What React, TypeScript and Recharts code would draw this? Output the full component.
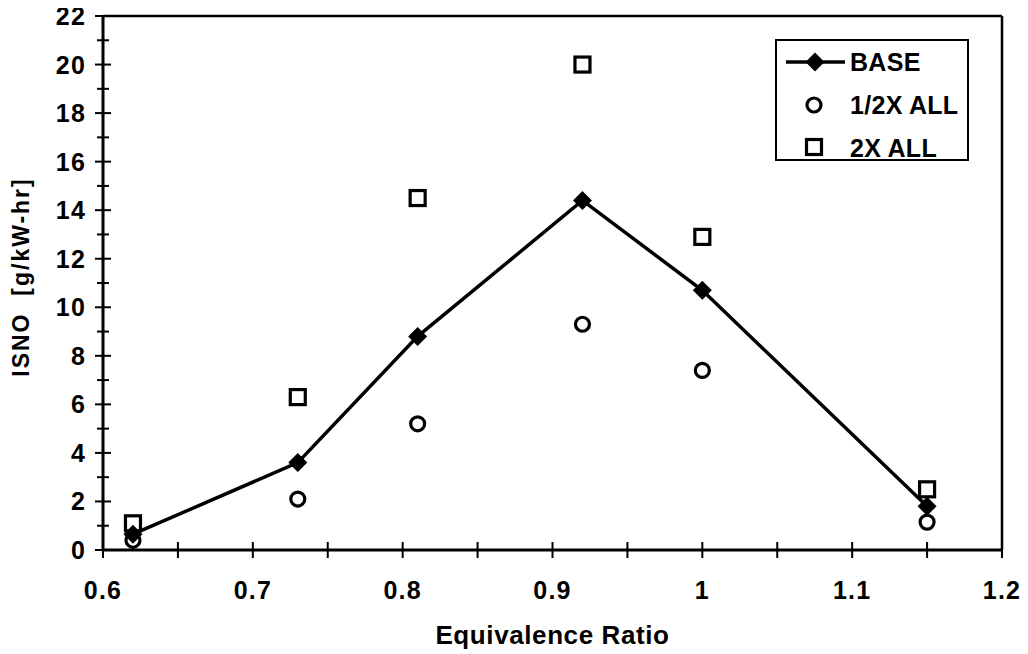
import {
  ScatterChart, Scatter, XAxis, YAxis, ReferenceLine,
} from 'recharts';

const phi = [0.62, 0.73, 0.81, 0.92, 1.0, 1.15];
const baseNo = [0.65, 3.6, 8.8, 14.4, 10.7, 1.8];
const halfNo = [0.4, 2.1, 5.2, 9.3, 7.4, 1.15];
const doubleNo = [1.1, 6.3, 14.5, 20.0, 12.9, 2.5];

const xTicks = [0.6, 0.65, 0.7, 0.75, 0.8, 0.85, 0.9, 0.95, 1, 1.05, 1.1, 1.15, 1.2];
const xTickLabels = ['0.6', '', '0.7', '', '0.8', '', '0.9', '', '1', '', '1.1', '', '1.2'];
const yTicks = [0, 1, 2, 3, 4, 5, 6, 7, 8, 9, 10, 11, 12, 13, 14, 15, 16, 17, 18, 19, 20, 21, 22];
const yTickLabels = yTicks.map((v) => (v % 2 === 0 ? String(v) : ''));

const seriesNames = ['BASE', '1/2X ALL', '2X ALL'];

const FONT = '"Liberation Sans", Arial, sans-serif';
const INK = '#000';

const toPoints = (ys: number[]) => phi.map((x, i) => ({ x, y: ys[i] }));

const Diamond = ({ cx, cy }: any) => (
  <path d={`M${cx},${cy - 9.5} L${cx + 9.5},${cy} L${cx},${cy + 9.5} L${cx - 9.5},${cy} Z`} fill={INK} />
);

const Ring = ({ cx, cy }: any) => (
  <circle cx={cx} cy={cy} r={7} fill="none" stroke={INK} strokeWidth={3.2} />
);

const Box = ({ cx, cy }: any) => (
  <rect x={cx - 7.5} y={cy - 7.5} width={15} height={15} fill="none" stroke={INK} strokeWidth={3.2} />
);

const XTick = ({ x, y, index }: any) => {
  const label = xTickLabels[index];
  return (
    <g>
      <line x1={x} x2={x} y1={y - 8} y2={y + 8} stroke={INK} strokeWidth={2} />
      {label && (
        <text x={x} y={y + 49} textAnchor="middle" fontFamily={FONT} fontWeight="bold"
          fontSize={25} letterSpacing={1.2} fill={INK}>
          {label}
        </text>
      )}
    </g>
  );
};

const YTick = ({ x, y, index }: any) => {
  const label = yTickLabels[index];
  return (
    <g>
      <line x1={x - (label ? 8 : 6)} x2={x + (label ? 8 : 6)} y1={y} y2={y} stroke={INK} strokeWidth={2} />
      {label && (
        <text x={x - 17} y={y + 9} textAnchor="end" fontFamily={FONT} fontWeight="bold"
          fontSize={25} letterSpacing={1.2} fill={INK}>
          {label}
        </text>
      )}
    </g>
  );
};

const XTitle = ({ viewBox }: any) => (
  <text x={viewBox.x + viewBox.width / 2} y={viewBox.y + 94} textAnchor="middle"
    fontFamily={FONT} fontWeight="bold" fontSize={26} letterSpacing={0.6} fill={INK}>
    Equivalence Ratio
  </text>
);

const YTitle = ({ viewBox }: any) => {
  const cx = viewBox.x + 13;
  const cy = viewBox.y + viewBox.height / 2 - 6;
  return (
    <text x={cx} y={cy} transform={`rotate(-90, ${cx}, ${cy})`} textAnchor="middle"
      dominantBaseline="central" fontFamily={FONT} fontWeight="bold" fontSize={23}
      letterSpacing={2} fill={INK}>
      {'ISNO\u00a0\u00a0[g/kW-hr]'}
    </text>
  );
};

const LegendBox = () => (
  <div style={{
    position: 'absolute', left: 767, top: 31, width: 190, height: 118,
    border: '2px solid #000', background: '#fff',
  }}>
    <svg width={190} height={118} style={{ overflow: 'visible' }}>
      <line x1={9} x2={68} y1={21} y2={21} stroke={INK} strokeWidth={3.5} />
      <Diamond cx={38} cy={21} />
      <Ring cx={37} cy={64} />
      <Box cx={37} cy={106} />
      {seriesNames.map((name, i) => (
        <text key={name} x={73} y={30 + i * 43} fontFamily={FONT} fontWeight="bold"
          fontSize={25} letterSpacing={0.3} fill={INK}>
          {name}
        </text>
      ))}
    </svg>
  </div>
);

export default function App() {
  return (
    <div style={{ position: 'relative', width: 1020, height: 646 }}>
      <style>{'.recharts-surface { overflow: visible; }'}</style>
      <ScatterChart width={1020} height={646} margin={{ top: 8, right: 26, bottom: 4, left: 0 }}>
        <XAxis
          type="number"
          dataKey="x"
          domain={[0.6, 1.2]}
          ticks={xTicks}
          interval={0}
          height={100}
          tickSize={0}
          tickMargin={0}
          tickLine={false}
          tick={<XTick />}
          axisLine={{ stroke: INK, strokeWidth: 3 }}
          label={<XTitle />}
        />
        <YAxis
          type="number"
          dataKey="y"
          domain={[0, 22]}
          ticks={yTicks}
          interval={0}
          width={95}
          tickSize={0}
          tickMargin={0}
          tickLine={false}
          tick={<YTick />}
          axisLine={{ stroke: INK, strokeWidth: 3 }}
          label={<YTitle />}
        />
        <ReferenceLine y={22} stroke={INK} strokeWidth={2.5} />
        <ReferenceLine x={1.2} stroke={INK} strokeWidth={2.5} />
        <Scatter name="1/2X ALL" data={toPoints(halfNo)} shape={<Ring />} isAnimationActive={false} />
        <Scatter name="2X ALL" data={toPoints(doubleNo)} shape={<Box />} isAnimationActive={false} />
        <Scatter
          name="BASE"
          data={toPoints(baseNo)}
          line={{ stroke: INK, strokeWidth: 3.5 }}
          lineType="joint"
          shape={<Diamond />}
          isAnimationActive={false}
        />
      </ScatterChart>
      <LegendBox />
    </div>
  );
}
